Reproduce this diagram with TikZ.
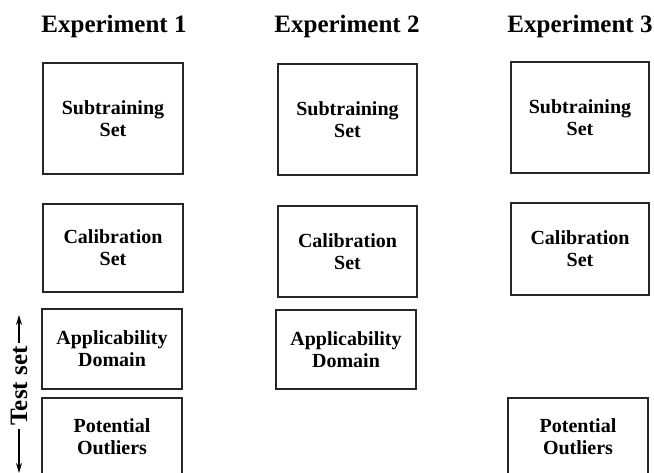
\documentclass[tikz,border=0pt]{standalone}
\usepackage{fontspec}
\setmainfont{Liberation Serif}
\usetikzlibrary{arrows.meta}
\begin{document}
\begin{tikzpicture}[x=1pt,y=-1pt,
  setbox/.style={draw=black!85, line width=1.3pt, inner sep=0pt, align=center,
    font=\bfseries\fontsize{20}{22}\selectfont},
  head/.style={font=\bfseries\fontsize{25}{28}\selectfont, inner sep=0pt},
  testarrow/.style={line width=1.5pt, -{Stealth[length=10pt,width=6pt]}}]
\useasboundingbox (0,0) rectangle (654,473);
% headings
\node[head] (h1) at (114,26.5) {Experiment 1};
\node[head] (h2) at (347,26.5) {Experiment 2};
\node[head] (h3) at (580,26.5) {Experiment 3};
% column 1
\node[setbox, minimum width=140pt, minimum height=111pt] (s1) at (113,118.5) {Subtraining\\Set};
\node[setbox, minimum width=140pt, minimum height=88pt] (c1) at (113,248) {Calibration\\Set};
\node[setbox, minimum width=140pt, minimum height=80pt] (a1) at (112,349) {Applicability\\Domain};
\node[setbox, minimum width=140pt, minimum height=78pt] (o1) at (112,437) {Potential\\Outliers};
% column 2
\node[setbox, minimum width=139pt, minimum height=111pt] (s2) at (347.5,119.5) {Subtraining\\Set};
\node[setbox, minimum width=139pt, minimum height=91pt] (c2) at (347.5,251.5) {Calibration\\Set};
\node[setbox, minimum width=140pt, minimum height=79pt] (a2) at (346,349.5) {Applicability\\Domain};
% column 3
\node[setbox, minimum width=138pt, minimum height=111pt] (s3) at (580,117.5) {Subtraining\\Set};
\node[setbox, minimum width=138pt, minimum height=92pt] (c3) at (580,249) {Calibration\\Set};
\node[setbox, minimum width=140pt, minimum height=78pt] (o3) at (578,437) {Potential\\Outliers};
% test set label
\node[rotate=90, font=\bfseries\fontsize{25}{28}\selectfont, inner sep=3pt] (ts) at (19,386) {Test set};
\coordinate (up) at (19,315);
\coordinate (down) at (19,473);
\draw[testarrow] (ts.east) -- (up);
\draw[testarrow] (ts.west) -- (down);
\end{tikzpicture}
\end{document}
